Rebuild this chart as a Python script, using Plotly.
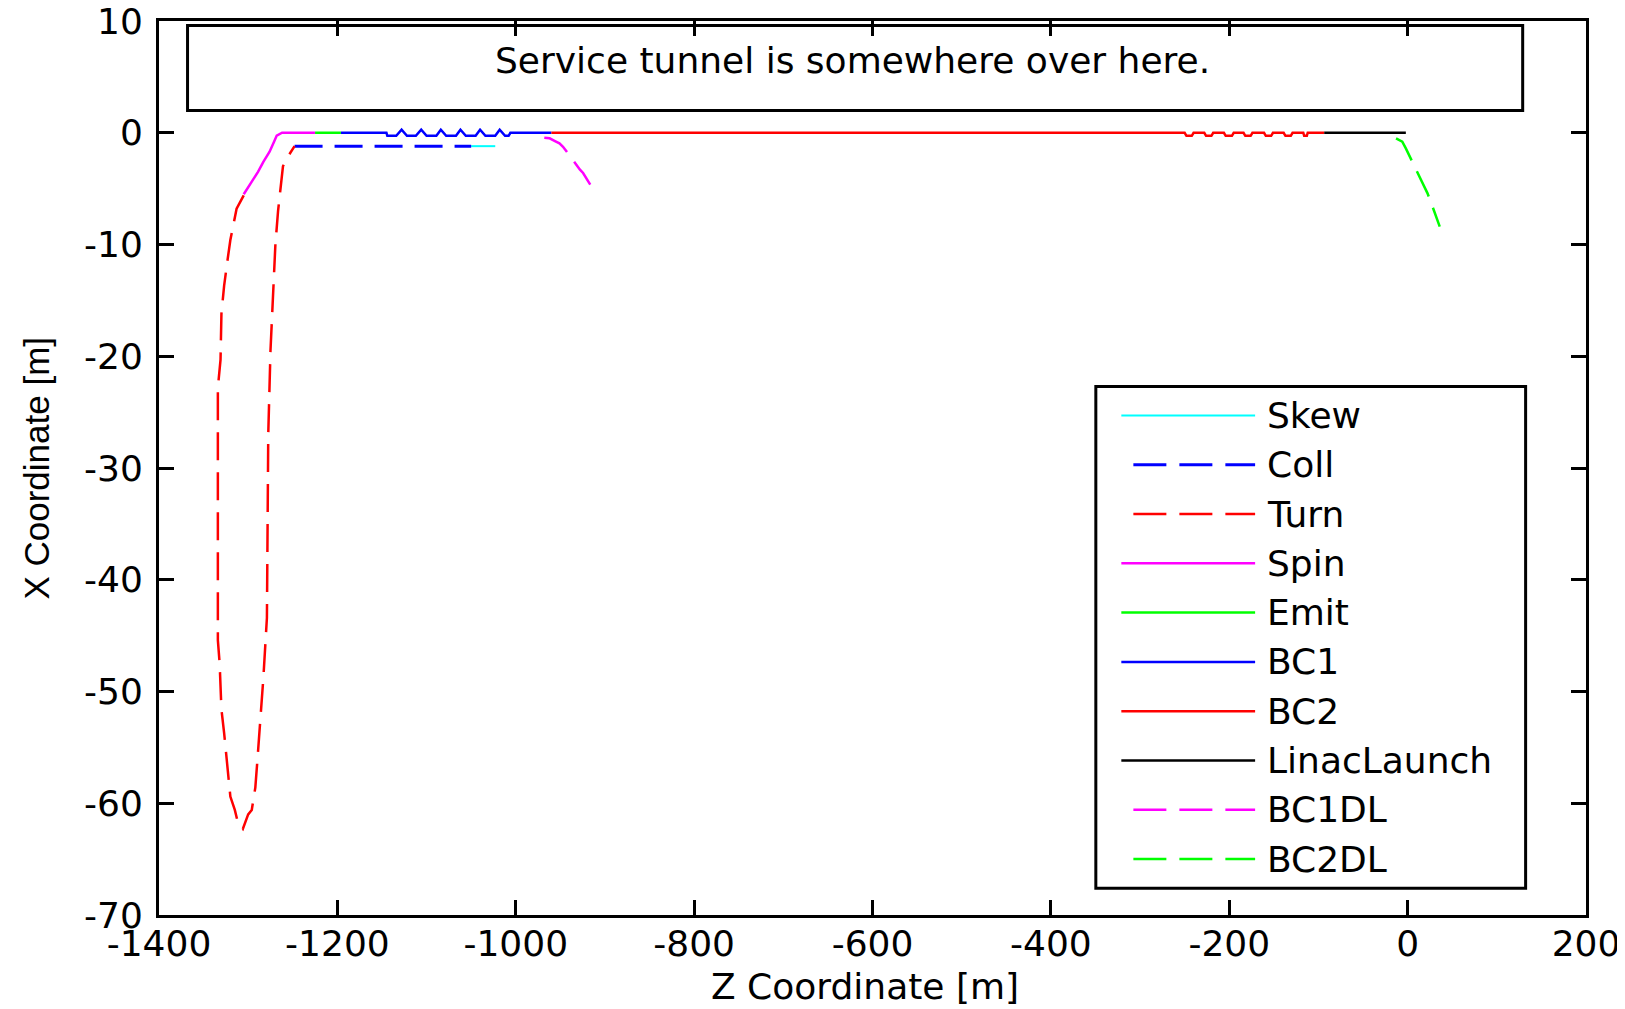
import plotly.graph_objects as go

# ---------------- data ----------------
names = ["Skew", "Coll", "Turn", "Spin", "Emit", "BC1", "BC2", "LinacLaunch", "BC1DL", "BC2DL"]

skew_z = [-1050, -1023]
skew_x = [-1.2, -1.2]

coll_z = [-1248, -1050]
coll_x = [-1.2, -1.2]

turn_z = [-1305, -1308, -1313, -1316, -1320, -1323, -1327, -1330, -1331, -1334, -1334, -1334,
          -1332, -1330, -1327, -1323.5, -1320, -1315, -1311, -1306, -1300, -1296, -1292, -1290,
          -1287, -1283, -1279, -1278, -1277.5, -1275, -1272, -1269.5, -1266.5, -1264, -1261,
          -1256, -1252.5, -1248]
turn_x = [-5.6, -6.1, -6.8, -8.0, -9.6, -11.3, -13.7, -16.2, -20.3, -22.8, -35.0, -45.4,
          -47.5, -51.6, -53.7, -56.5, -59.4, -60.6, -61.9, -62.3, -61.0, -60.6, -58.6, -56.5,
          -53.3, -48.8, -43.4, -35.0, -27.0, -19.5, -13.7, -10.0, -7.0, -5.1, -3.0,
          -2.2, -1.8, -1.2]

spin_z = [-1305, -1296, -1289, -1283, -1279, -1276, -1271, -1268, -1262, -1225]
spin_x = [-5.5, -4.4, -3.5, -2.6, -2.1, -1.7, -0.8, -0.25, 0, 0]

emit_z = [-1225, -1196]
emit_x = [0, 0]

bc1_z = [-1196, -1145, -1144, -1134, -1128, -1122, -1112, -1106, -1100, -1089, -1084, -1078,
         -1067, -1062, -1056, -1045, -1040, -1034, -1023, -1018, -1012, -1008, -1006, -960]
bc1_x = [0, 0, -0.27, -0.27, 0.27, -0.27, -0.27, 0.27, -0.27, -0.27, 0.27, -0.27,
         -0.27, 0.27, -0.27, -0.27, 0.27, -0.27, -0.27, 0.27, -0.27, -0.27, 0, 0]

bc2_z = [-960, -250, -248, -242, -240, -228, -226, -220, -218, -206, -204, -197, -195,
         -184, -182, -176, -174, -161, -159, -153, -151, -139, -137, -131, -129, -117, -116,
         -113, -112, -93.5]
bc2_x = [0, 0, -0.27, -0.27, 0, 0, -0.27, -0.27, 0, 0, -0.27, -0.27, 0,
         0, -0.27, -0.27, 0, 0, -0.27, -0.27, 0, 0, -0.27, -0.27, 0, 0, -0.27,
         -0.27, 0, 0]

launch_z = [-93.5, -2]
launch_x = [0, 0]

bc1dl_z = [-968, -962, -956, -951, -947, -943, -939.5, -928, -924.5, -921, -916]
bc1dl_x = [-0.45, -0.5, -0.75, -0.95, -1.25, -1.7, -2.0, -3.3, -3.6, -4.1, -4.7]

bc2dl_z = [-13, -6, -2, 3.6, 11, 16.6, 22.2, 29.7, 35.3, 36]
bc2dl_x = [-0.5, -0.8, -1.4, -2.3, -3.5, -4.4, -5.4, -7.0, -8.2, -8.4]

series_z = [skew_z, coll_z, turn_z, spin_z, emit_z, bc1_z, bc2_z, launch_z, bc1dl_z, bc2dl_z]
series_x = [skew_x, coll_x, turn_x, spin_x, emit_x, bc1_x, bc2_x, launch_x, bc1dl_x, bc2dl_x]

x_ticks = [-1400, -1200, -1000, -800, -600, -400, -200, 0, 200]
x_ticktext = ["-1400", "-1200", "-1000", "-800", "-600", "-400", "-200", "0", "200"]
y_ticks = [-70, -60, -50, -40, -30, -20, -10, 0, 10]
y_ticktext = ["-70", "-60", "-50", "-40", "-30", "-20", "-10", "0", "10"]

note_text = "Service tunnel is somewhere over here."
x_title = "Z Coordinate [m]"
y_title = "X Coordinate [m]"

# ---------------- styles ----------------
colors = ["#00ffff", "#0000ff", "#ff0000", "#ff00ff", "#00ff00", "#0000ff", "#ff0000",
          "#000000", "#ff00ff", "#00ff00"]
dashes = ["solid", "28px,12px", "28px,12px", "solid", "solid", "solid", "solid", "solid",
          "28px,12px", "28px,12px"]
widths = [2, 3, 2.5, 2.5, 2.5, 2.5, 2.5, 2.5, 2.5, 2.5]
leg_dashes = ["solid", "33px,13px", "33px,13px", "solid", "solid", "solid", "solid", "solid",
              "33px,13px", "33px,13px"]

FONT = "DejaVu Sans"
FS = 36

fig = go.Figure()
for nm, zz, xx, c, d, w in zip(names, series_z, series_x, colors, dashes, widths):
    fig.add_trace(go.Scatter(x=zz, y=xx, mode="lines", name=nm, showlegend=False,
                             line=dict(color=c, dash=d, width=w)))

shapes = []
annotations = []

# note box
shapes.append(dict(type="rect", xref="x", yref="y", x0=-1368, x1=129, y0=2.0, y1=9.6,
                   line=dict(color="black", width=3), fillcolor="white", layer="below"))
annotations.append(dict(xref="x", yref="y", x=-622, y=6.5, text=note_text, showarrow=False,
                        font=dict(family=FONT, size=FS, color="black"),
                        xanchor="center", yanchor="middle"))

# custom legend
shapes.append(dict(type="rect", xref="x", yref="y", x0=-349.6, x1=132.3, y0=-67.6, y1=-22.7,
                   line=dict(color="black", width=3), fillcolor="white", layer="above"))
row0, step = -25.3, -4.41
for i, (nm, c, d, w) in enumerate(zip(names, colors, leg_dashes, widths)):
    yy = row0 + i * step
    x0 = -321 if d == "solid" else -307.5
    shapes.append(dict(type="line", xref="x", yref="y", x0=x0, x1=-171, y0=yy, y1=yy,
                       line=dict(color=c, dash=d, width=w), layer="above"))
    annotations.append(dict(xref="x", yref="y", x=-160, y=yy, text=nm, showarrow=False,
                            font=dict(family=FONT, size=FS, color="black"),
                            xanchor="left", yanchor="middle"))

# axis titles
annotations.append(dict(xref="paper", yref="paper", x=0.4948, y=-0.0795, text=x_title,
                        showarrow=False, font=dict(family=FONT, size=FS, color="black"),
                        xanchor="center", yanchor="middle"))
annotations.append(dict(xref="paper", yref="paper", x=-0.0865, y=0.5, text=y_title,
                        textangle=-90, showarrow=False,
                        font=dict(family="Liberation Sans", size=35, color="black"),
                        xanchor="center", yanchor="middle"))

axis_common = dict(showline=True, linecolor="black", linewidth=3, mirror="ticks",
                   ticks="inside", ticklen=15, tickwidth=3, tickcolor="black",
                   showgrid=False, zeroline=False, automargin=False,
                   ticklabeloverflow="allow",
                   tickfont=dict(family=FONT, size=FS, color="black"))

fig.update_layout(
    width=1617, height=1001,
    margin=dict(l=151, r=39, t=13, b=94),
    paper_bgcolor="white", plot_bgcolor="white",
    xaxis=dict(range=[-1400, 200], tickvals=x_ticks, ticktext=x_ticktext,
               ticklabelstandoff=-5, **axis_common),
    yaxis=dict(range=[-70, 10], tickvals=y_ticks, ticktext=y_ticktext,
               ticklabelstandoff=6, **axis_common),
    shapes=shapes, annotations=annotations,
)

fig.write_html("out.html")
